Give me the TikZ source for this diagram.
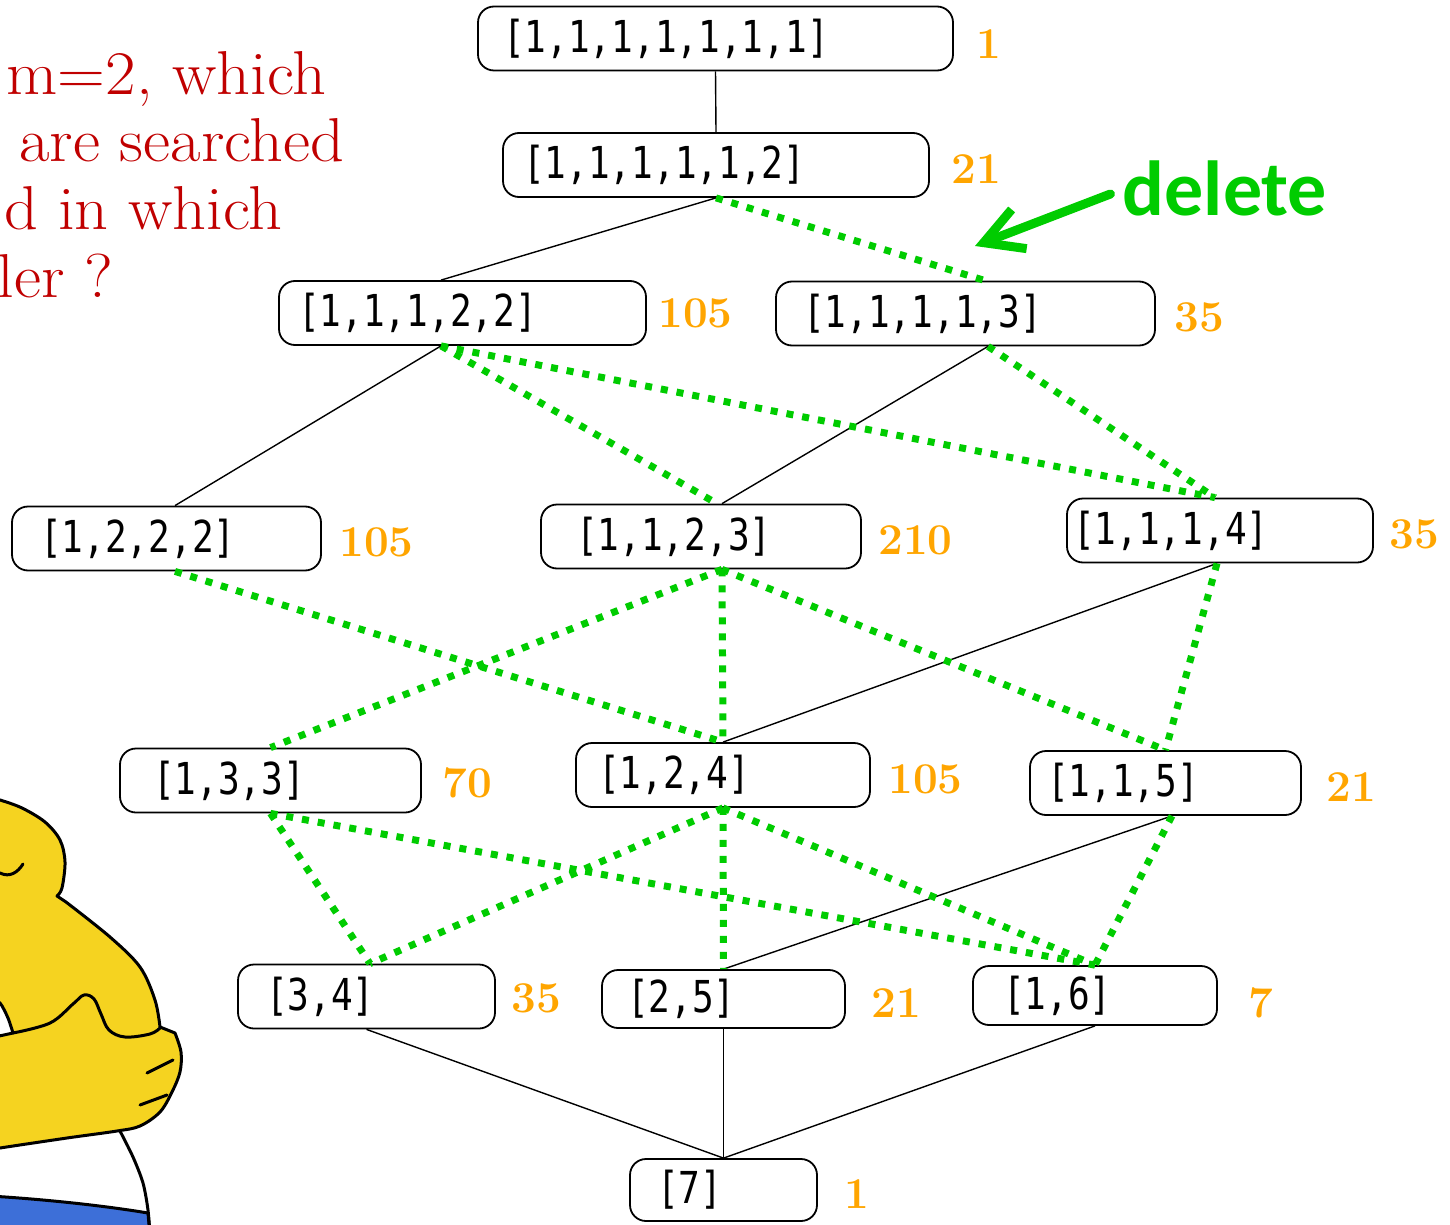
\documentclass[tikz,border=0pt]{standalone}
\usepackage{fontspec}
\newfontfamily\partmono[FakeStretch=0.82]{DejaVu Sans Mono}
\newfontfamily\tagsans{Carlito}
\newfontfamily\askserif[FakeStretch=1.07]{Latin Modern Roman}
\usepackage{tikz}
\usetikzlibrary{positioning,arrows.meta}

\definecolor{delgreen}{RGB}{0,204,0}
\definecolor{countorange}{RGB}{255,165,0}
\definecolor{askred}{RGB}{192,0,0}
\definecolor{skin}{RGB}{245,211,32}
\definecolor{pants}{RGB}{61,111,216}

\begin{document}
\begin{tikzpicture}
        [x=0.5pt,y=-0.5pt,
         part/.style={draw,fill=white,rounded corners=8pt,line width=0.9pt,
                      minimum height=32pt,inner ysep=0pt,align=left,
                      font=\partmono\fontsize{22}{26}\selectfont},
         count/.style={text=countorange,inner sep=0pt,yshift=-2pt,
                       font=\fontsize{22}{26}\selectfont\bfseries},
         ask/.style={text=askred,anchor=base east,inner sep=0pt,
                     font=\askserif\fontsize{31}{36}\selectfont},
         tree/.style={draw,line width=0.7pt},
         del/.style={draw=delgreen,line width=3.5pt,dash pattern=on 3.5pt off 4.5pt},
         delarrow/.style={draw=delgreen,line width=4.5pt,line cap=round,
                          -{Straight Barb[length=19pt,width=21pt]}},
         ink/.style={line width=1.5pt,line cap=round,line join=round}]
        \useasboundingbox (0,0) rectangle (1450,1225);
        \clip (0,0) rectangle (1450,1225);

        % the question
        \node[ask](ask1) at (327,95) {m=2, which};
        \node[ask](ask2) at (345,162) {are searched};
        \node[ask](ask3) at (283,230) {d in which};
        \node[ask](ask4) at (114,297) {ler ?};

        % cartoon in the lower left corner
        \fill[skin] plot[smooth,tension=0.55] coordinates {(-10,798) (0,800) (22,808) (45,822) (60,840) (65,862) (62,888) (57,896)}
            -- plot[smooth,tension=0.55] coordinates {(66,902) (110,937) (140,967) (155,1000) (160,1027)}
            -- plot[smooth,tension=0.55] coordinates {(175,1033) (181,1052) (180,1072) (172,1092) (160,1112) (140,1126) (117,1131) (67,1138) (0,1148) (-10,1150)}
            -- cycle;
        \draw[ink] plot[smooth,tension=0.55] coordinates {(-10,798) (0,800) (22,808) (45,822) (60,840) (65,862) (62,888) (57,896)}
            -- plot[smooth,tension=0.55] coordinates {(66,902) (110,937) (140,967) (155,1000) (160,1027)}
            -- plot[smooth,tension=0.55] coordinates {(175,1033) (181,1052) (180,1072) (172,1092) (160,1112) (140,1126) (117,1131) (67,1138) (0,1148) (-10,1150)};
        \filldraw[ink,fill=white] plot[smooth] coordinates {(-10,998) (0,1003) (8,1018) (13,1033)} -- (-10,1038) -- cycle;
        \draw[ink] plot[smooth,tension=0.6] coordinates {(13,1033) (50,1023) (73,1004) (84,995) (94,999) (101,1014) (109,1030) (125,1037) (150,1034) (160,1028)};
        \draw[ink] (0,873) .. controls (10,878) and (18,872) .. (23,864);
        \draw[ink] (147,1073) -- (173,1060);
        \draw[ink] (140,1105) -- (167,1095);
        \filldraw[ink,fill=pants] (-10,1196) .. controls (40,1199) and (100,1205) .. (148,1213) -- (150,1235) -- (-10,1235) -- cycle;
        \draw[ink] plot[smooth] coordinates {(120,1131) (133,1157) (143,1183) (148,1210) (150,1235)};

        % partitions of 7
        \node[part,text width=212.5pt,inner xsep=12.5pt](p1111111) at (715.5,38.5) {[1,1,1,1,1,1,1]};
        \node[part,text width=193pt,inner xsep=10pt](p111112) at (716,165) {[1,1,1,1,1,2]};
        \node[part,text width=164.5pt,inner xsep=9.5pt](p11122) at (462.5,313) {[1,1,1,2,2]};
        \node[part,text width=162.5pt,inner xsep=13.5pt](p11113) at (965.5,313.5) {[1,1,1,1,3]};
        \node[part,text width=126.5pt,inner xsep=14pt](p1222) at (166.5,538.5) {[1,2,2,2]};
        \node[part,text width=125pt,inner xsep=17.5pt](p1123) at (701,536.5) {[1,1,2,3]};
        \node[part,text width=147pt,inner xsep=3pt](p1114) at (1220,530.5) {[1,1,1,4]};
        \node[part,text width=117.5pt,inner xsep=16.5pt](p133) at (270.5,780.5) {[1,3,3]};
        \node[part,text width=125pt,inner xsep=11pt](p124) at (723,775) {[1,2,4]};
        \node[part,text width=118.5pt,inner xsep=8.5pt](p115) at (1165.5,783) {[1,1,5]};
        \node[part,text width=100.5pt,inner xsep=14pt](p34) at (366.5,996.5) {[3,4]};
        \node[part,text width=96.5pt,inner xsep=12.5pt,minimum height=29pt](p25) at (723.5,999) {[2,5]};
        \node[part,text width=92pt,inner xsep=15pt,minimum height=29.5pt](p16) at (1095,995.5) {[1,6]};
        \node[part,text width=66.5pt,inner xsep=13.5pt,minimum height=31pt](p7) at (723.5,1190) {[7]};

        % counts
        \node[count](c1111111)[right =11pt of p1111111,yshift=-1pt]{1};
        \node[count](c111112)[right =10.5pt of p111112]{21};
        \node[count](c11122)[right =5.5pt of p11122,yshift=2pt]{105};
        \node[count](c11113)[right =9pt of p11113]{35};
        \node[count](c1222)[right =8.5pt of p1222]{105};
        \node[count](c1123)[right =8pt of p1123]{210};
        \node[count](c1114)[right =7.5pt of p1114]{35};
        \node[count](c133)[right =10pt of p133,yshift=1pt]{70};
        \node[count](c124)[right =8.5pt of p124]{105};
        \node[count](c115)[right =12pt of p115]{21};
        \node[count](c34)[right =7.5pt of p34,yshift=1pt]{35};
        \node[count](c25)[right =12.5pt of p25]{21};
        \node[count](c16)[right =15pt of p16,yshift=-1.5pt]{7};
        \node[count](c7)[right =13pt of p7]{1};

        % kept links
        \path[tree](p1111111.south) edge (p111112.north)
                (p111112.south) edge ([xshift=-10.75pt]p11122.north)
                ([xshift=-10.75pt]p11122.south) edge ([xshift=4.25pt]p1222.north)
                ([xshift=11.25pt]p11113.south) edge ([xshift=10.5pt]p1123.north)
                ([xshift=-1.5pt]p1114.south) edge (p124.north)
                ([xshift=3.25pt]p115.south) edge (p25.north)
                (p34.south) edge (p7.north)
                (p25.south) edge (p7.north)
                (p16.south) edge (p7.north);

        % deleted links
        \path[del](p111112.south) edge ([xshift=9.75pt]p11113.north)
                ([xshift=-10.75pt]p11122.south) edge ([xshift=8pt]p1123.north)
                    edge ([xshift=-2.5pt]p1114.north)
                ([xshift=11.25pt]p11113.south) edge ([xshift=-2.5pt]p1114.north)
                ([xshift=4.25pt]p1222.south) edge (p124.north)
                ([xshift=10.5pt]p1123.south) edge (p133.north)
                    edge (p124.north)
                    edge (p115.north)
                ([xshift=-1.5pt]p1114.south) edge (p115.north)
                (p133.south) edge ([xshift=1.75pt]p34.north)
                    edge (p16.north)
                (p124.south) edge ([xshift=1.75pt]p34.north)
                    edge (p25.north)
                    edge (p16.north)
                ([xshift=3.25pt]p115.south) edge (p16.north);

        % delete marker
        \node[text=delgreen,inner xsep=6pt,font=\tagsans\bfseries\fontsize{39}{44}\selectfont](deltag) at (1225,188) {delete};
        \coordinate (delhit) at (975,246);
        \draw[delarrow]([yshift=-3pt]deltag.west) -- (delhit);
\end{tikzpicture}
\end{document}
